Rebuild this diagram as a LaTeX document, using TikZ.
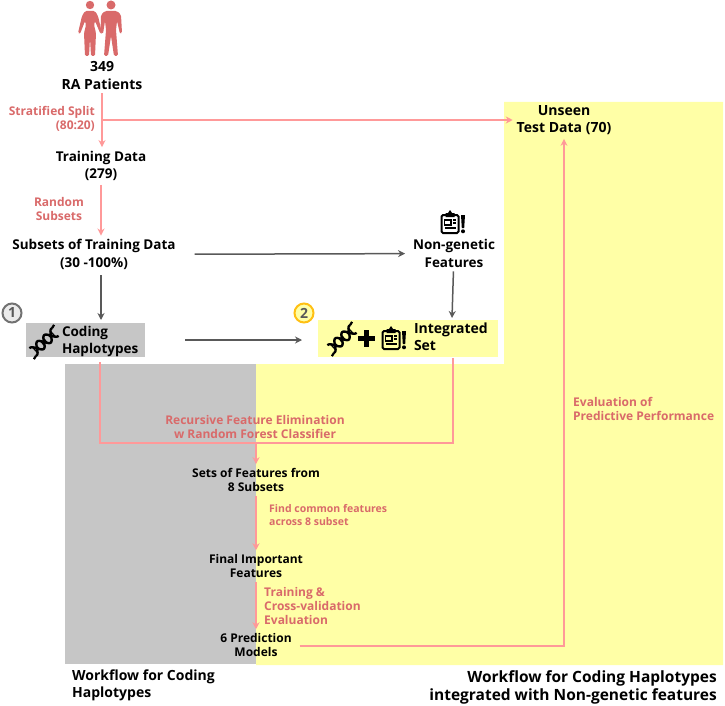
\documentclass[tikz,border=0pt]{standalone}
\usepackage{fontspec}
\setmainfont{Open Sans}
\usetikzlibrary{arrows.meta, positioning}
\definecolor{RAPink}{RGB}{255,153,153}
\definecolor{RARed}{RGB}{217,106,106}
\definecolor{RAYellow}{RGB}{255,255,166}
\definecolor{RAGray}{RGB}{198,198,198}
\definecolor{RADark}{RGB}{89,89,89}
\definecolor{RAGold}{RGB}{255,192,20}
\tikzset{
  pics/dna/.style={code={
    \draw[line width=2.4pt] plot[domain=-15:15,samples=31,smooth] (\x,{5*sin(\x*19)});
    \draw[line width=2.4pt] plot[domain=-15:15,samples=31,smooth] (\x,{-5*sin(\x*19)});
    \foreach \r in {-12,-8,-2,2,8,12}{
      \draw[line width=1.3pt] (\r,{5*sin(\r*19)}) -- (\r,{-5*sin(\r*19)});
    }
    \draw[line width=2.2pt] (15,{5*sin(285)}) -- (19,-6) (-15,{-5*sin(285)}) -- (-19,6);
  }},
  pics/clipboard/.style={code={
    \draw[line width=2pt, rounded corners=1.5pt] (-8.5,-7) rectangle (8.5,11);
    \fill (-4.5,-9) -- (-2,-9) -- (0,-12) -- (2,-9) -- (4.5,-9) -- (4.5,-5) -- (-4.5,-5) -- cycle;
    \draw[line width=1.3pt] (-5.5,-2) rectangle (1,3);
    \draw[line width=1.3pt] (3,-2) -- (6,-2) (3,1) -- (6,1) (-5.5,6) -- (6,6);
    \fill (11,-7) -- (15,-7) -- (14.2,6) -- (11.8,6) -- cycle;
    \fill (13,9.3) circle (2);
  }}
}
\begin{document}
\begin{tikzpicture}[x=1pt, y=-1pt,
    txt/.style={align=center, inner sep=0pt, outer sep=4pt, font=\fontsize{13.5}{17.5}\selectfont\bfseries},
    small/.style={align=center, inner sep=0pt, outer sep=4pt, font=\fontsize{12}{14.3}\selectfont\bfseries},
    lbl/.style={text=RARed, inner sep=0pt, font=\fontsize{12}{14}\selectfont\bfseries},
    ttl/.style={inner sep=0pt, font=\fontsize{14}{17.5}\selectfont\bfseries},
    numc/.style={circle, draw, line width=2pt, minimum size=19pt, inner sep=0pt, text=RADark,
                 font=\fontsize{14}{14}\selectfont\bfseries},
    box/.style={inner sep=0pt, outer sep=0pt},
    arr/.style={-{Stealth[length=7pt,width=7pt]}, draw=RAPink, line width=1.8pt},
    pline/.style={draw=RAPink, line width=1.8pt},
    darr/.style={-{Stealth[length=7pt,width=7pt]}, draw=RADark, line width=1.5pt}
  ]
  \useasboundingbox (0,0) rectangle (725,706);

  % panels
  \fill[RAYellow] (504,102) -- (723,102) -- (723,665) -- (256,665) -- (256,364) -- (504,364) -- cycle;
  \fill[RAGray] (65,364) rectangle (256,664);
  \node[box, fill=RAGray, minimum width=119pt, minimum height=34pt] (haplo) at (85.5,340) {};
  \node[box, fill=RAYellow, minimum width=180pt, minimum height=37pt] (integrated) at (408,338.5) {};

  % patients
  \fill[RARed] (90,5) circle (4.2);
  \fill[RARed, rounded corners=1.5pt] (85,11) -- (95,11) -- (98,16) -- (102,33) -- (100.5,34) -- (95,21)
    -- (94,25) -- (96,33) -- (95,56) -- (91,56) -- (90,38) -- (89,56) -- (85,56) -- (84,33) -- (86,25)
    -- (85,21) -- (80,34) -- (78,33) -- (82,16) -- cycle;
  \fill[RARed] (111,5) circle (4.5);
  \fill[RARed, rounded corners=1.5pt] (105,11) -- (117,11) -- (121,15) -- (122,33) -- (120,34) -- (117,21)
    -- (116,30) -- (118,56) -- (114,56) -- (111,36) -- (108,56) -- (104,56) -- (106,30) -- (105,21)
    -- (103,34) -- (100.5,33) -- (101,15) -- cycle;

  \node[txt, font=\fontsize{14}{17.5}\selectfont\bfseries] (patients) at (102,75.5) {349\\RA Patients};
  \node[txt] (training) at (101,166) {Training Data\\(279)};
  \node[txt] (subsets) at (94,254.5) {Subsets of Training Data\\(30 -100\%)};
  \node[txt] (nongen) at (454,253.5) {Non-genetic\\Features};
  \node[txt, font=\fontsize{14}{17.5}\selectfont\bfseries] (unseen) at (564,120) {Unseen\\Test Data (70)};
  \node[small] (setsf) at (256,480) {Sets of Features from\\8 Subsets};
  \node[small] (finalf) at (256,566) {Final Important\\Features};
  \node[small] (pred) at (256,645) {6 Prediction\\Models};

  \node[txt, align=left, anchor=west] (hapltxt) at (58,341.5) {Coding\\Haplotypes};
  \node[small, align=left, anchor=west, font=\fontsize{14}{17}\selectfont\bfseries] (inttxt) at (410,336.5) {Integrated\\Set};

  % icons
  \pic[rotate=42] at (44,342) {dna};
  \pic[rotate=42] at (342,339) {dna};
  \draw[line width=4.5pt] (358,338.5) -- (375,338.5) (366.5,330) -- (366.5,347);
  \pic at (450,222) {clipboard};
  \pic at (391,338) {clipboard};

  \node[numc, draw=RADark!85, fill=RAGray!35] (one) at (12,313) {1};
  \node[numc, draw=RAGold, fill=RAYellow] (two) at (304,313) {2};

  % connectors
  \coordinate (split) at (102,120);
  \draw[arr] (patients) -- (patients.south |- training.north);
  \draw[arr] (split) -- (unseen.west);
  \draw[arr] (training.south) -- (training.south |- subsets.north);
  \coordinate (subout) at (101,275);
  \coordinate (hapin) at (101,320);
  \draw[darr] (subout) -- (hapin);
  \draw[darr, shorten <=15pt, shorten >=4pt] (subsets) -- (nongen);
  \coordinate (intin) at (452,318);
  \draw[darr] (nongen) -- (intin);
  \draw[darr, shorten <=40pt, shorten >=16pt] (haplo.east) -- (integrated.west |- haplo.east);

  \coordinate (hapout) at (100,362);
  \coordinate (intout) at (453,358);
  \coordinate (rfe) at (256,443);
  \draw[pline] (hapout) |- (rfe) -| (intout);
  \draw[arr] (rfe) -- (setsf);
  \draw[arr] (setsf) -- (finalf);
  \draw[arr] (finalf) -- (pred);
  \draw[arr, shorten <=4pt] (pred.east |- 0,646) -| (unseen);

  % labels
  \node[lbl, align=right, anchor=east] (lsplit) at (95,119) {Stratified Split\\(80:20)};
  \node[lbl, align=center] (lrandom) at (59,209) {Random\\Subsets};
  \node[lbl, align=center] (lrfe) at (255,427) {Recursive Feature Elimination\\w Random Forest Classifier};
  \node[lbl, align=left, anchor=west, font=\fontsize{10.5}{12.5}\selectfont\bfseries] (lcommon) at (269,515) {Find common features\\across 8 subset};
  \node[lbl, align=left, anchor=west] (ltrain) at (264,606) {Training \&\\Cross-validation\\Evaluation};
  \node[lbl, align=left, anchor=west] (leval) at (573,409) {Evaluation of\\Predictive Performance};

  \node[ttl, align=left, anchor=west] (twf1) at (72,685.5) {Workflow for Coding\\Haplotypes};
  \node[ttl, align=right, anchor=east, font=\fontsize{15.5}{18}\selectfont\bfseries] (twf2) at (717,687) {Workflow for Coding Haplotypes\\integrated with Non-genetic features};
\end{tikzpicture}
\end{document}
